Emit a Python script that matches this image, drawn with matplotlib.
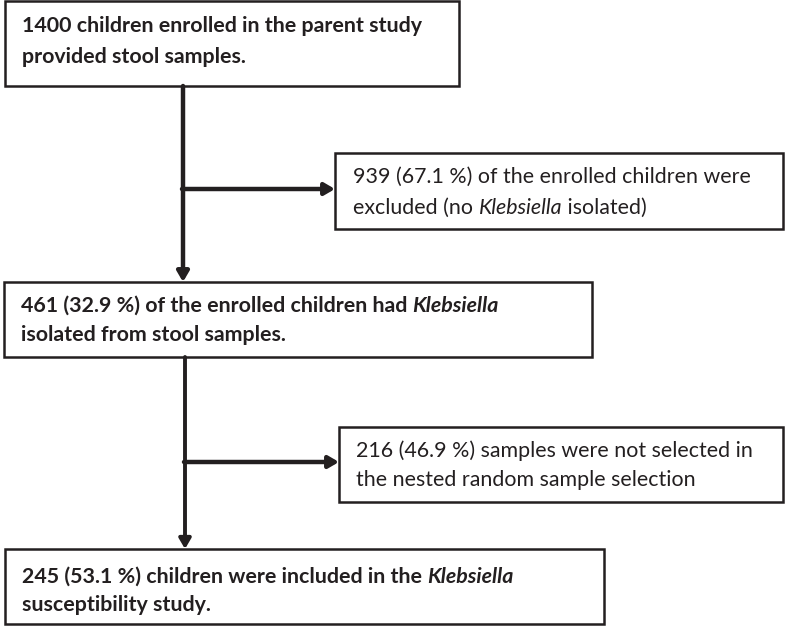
import matplotlib.pyplot as plt
from matplotlib.patches import Rectangle

plt.rcParams['font.family'] = ['Lato', 'DejaVu Sans']

W, H = 789, 626
INK = '#231f20'

# flowchart content: each box holds lines, each line is a list of (text, style)
box_texts = [
    [[("1400 children enrolled in the parent study", "b")],
     [("provided stool samples.", "b")]],
    [[("939 (67.1 %) of the enrolled children were", "n")],
     [("excluded (no ", "n"), ("Klebsiella", "i"), (" isolated)", "n")]],
    [[("461 (32.9 %) of the enrolled children had ", "b"), ("Klebsiella", "bi")],
     [("isolated from stool samples.", "b")]],
    [[("216 (46.9 %) samples were not selected in", "n")],
     [("the nested random sample selection", "n")]],
    [[("245 (53.1 %) children were included in the ", "b"), ("Klebsiella", "bi")],
     [("susceptibility study.", "b")]],
]

# box geometry in pixels: left, top, right, bottom
boxes = [(5, 1, 459, 86), (335, 153, 783, 229), (4, 282, 592, 357),
         (339, 427, 783, 502), (5, 549, 604, 624)]
baselines = [(32, 63), (183, 214), (312, 341), (457, 486), (583, 611)]
pad_x = [17, 18, 17, 17, 17]

fig = plt.figure(figsize=(W / 100, H / 100), dpi=100)
ax = fig.add_axes([0, 0, 1, 1])
ax.set_xlim(0, W)
ax.set_ylim(H, 0)
ax.axis('off')
fig.canvas.draw()
renderer = fig.canvas.get_renderer()

styles = {"n": ("normal", "normal"), "b": ("bold", "normal"),
          "i": ("normal", "italic"), "bi": ("bold", "italic")}


def draw_line(x, y, segments, size=15.4):
    for txt, st in segments:
        w, s = styles[st]
        t = ax.text(x, y, txt, fontsize=size, fontweight=w, fontstyle=s,
                    color=INK, va='baseline', ha='left')
        bb = t.get_window_extent(renderer)
        x += bb.width


for (l, t, r, b), lines, ys, px in zip(boxes, box_texts, baselines, pad_x):
    ax.add_patch(Rectangle((l, t), r - l, b - t, fill=False, ec=INK, lw=1.8))
    for seg, y in zip(lines, ys):
        draw_line(l + px, y, seg)

arrow = dict(arrowstyle='-|>,head_length=0.6,head_width=0.35', color=INK, shrinkA=0, shrinkB=0)
# main trunk
ax.annotate('', xy=(183, 282), xytext=(183, 86), arrowprops=dict(arrow, lw=3.2))
ax.annotate('', xy=(185, 549), xytext=(185, 357), arrowprops=dict(arrow, lw=2.8))
# side branches
ax.annotate('', xy=(335, 189), xytext=(182, 189), arrowprops=dict(arrow, lw=3.2))
ax.annotate('', xy=(339, 462), xytext=(184, 462), arrowprops=dict(arrow, lw=3.2))

fig.savefig('out.png', dpi=100, facecolor='white')
